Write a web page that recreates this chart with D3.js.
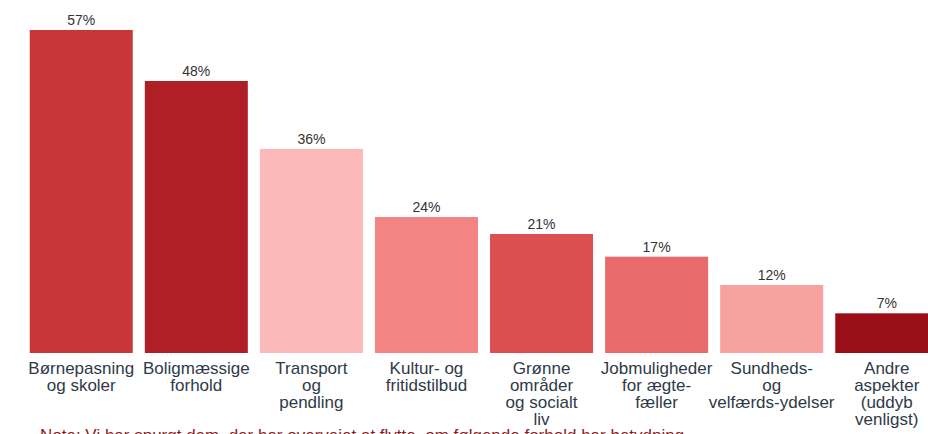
<!DOCTYPE html>
<html>
<head>
<meta charset="utf-8">
<script src="https://cdn.jsdelivr.net/npm/d3@7"></script>
<style>
  html, body { margin: 0; padding: 0; background: #fff; overflow: hidden; }
  svg { display: block; font-family: "Liberation Sans", Arial, sans-serif; }
</style>
</head>
<body>
<div id="chart"></div>
<script>
// kategorier (linjeskift som i figuren)
const categories = [
  ['Børnepasning', 'og skoler'],
  ['Boligmæssige', 'forhold'],
  ['Transport', 'og', 'pendling'],
  ['Kultur- og', 'fritidstilbud'],
  ['Grønne', 'områder', 'og socialt', 'liv'],
  ['Jobmuligheder', 'for ægte-', 'fæller'],
  ['Sundheds-', 'og', 'velfærds-ydelser'],
  ['Andre', 'aspekter', '(uddyb', 'venligst)']
];
const values = [57, 48, 36, 24, 21, 17, 12, 7];
const colors = ['#c9363a', '#b01f25', '#fbb9ba', '#f28483', '#db4f50', '#e96a6b', '#f8a2a0', '#9a0e17'];
const noteText = 'Note: Vi har spurgt dem, der har overvejet at flytte, om følgende forhold har betydning';

const width = 928;
const height = 434;
const baseY = 353; // bundlinje for søjlerne

const svg = d3.select('#chart')
  .append('svg')
  .attr('width', width)
  .attr('height', height);

const x = d3.scaleBand()
  .domain(d3.range(values.length))
  .range([24, 944])
  .paddingInner(0.105)
  .paddingOuter(0.05);

const y = d3.scaleLinear()
  .domain([0, 57])
  .range([baseY, 30]);

// søjler
svg.append('g')
  .selectAll('rect')
  .data(values)
  .enter()
  .append('rect')
  .attr('x', (d, i) => x(i))
  .attr('y', (d) => y(d))
  .attr('width', x.bandwidth())
  .attr('height', (d) => y(0) - y(d))
  .attr('fill', (d, i) => colors[i]);

// procent-labels
svg.append('g')
  .selectAll('text')
  .data(values)
  .enter()
  .append('text')
  .attr('x', (d, i) => x(i) + x.bandwidth() / 2)
  .attr('y', (d) => y(d) - 5)
  .attr('text-anchor', 'middle')
  .style('font-size', '14px')
  .style('fill', '#333')
  .text((d) => d + '%');

// kategori-labels
const cat = svg.append('g')
  .selectAll('text')
  .data(categories)
  .enter()
  .append('text')
  .attr('x', (d, i) => x(i) + x.bandwidth() / 2)
  .attr('y', 374)
  .attr('text-anchor', 'middle')
  .style('font-size', '17px')
  .style('fill', '#2e3a48');

cat.selectAll('tspan')
  .data((d, i) => d.map((t) => ({ t, i })))
  .enter()
  .append('tspan')
  .attr('x', (d) => x(d.i) + x.bandwidth() / 2)
  .attr('dy', (d, j) => (j === 0 ? 0 : 17))
  .text((d) => d.t);

// note (beskåret i bunden som i figuren)
svg.append('text')
  .attr('x', 40)
  .attr('y', 441)
  .style('font-size', '17px')
  .style('fill', '#8b1c24')
  .text(noteText);
</script>
</body>
</html>
